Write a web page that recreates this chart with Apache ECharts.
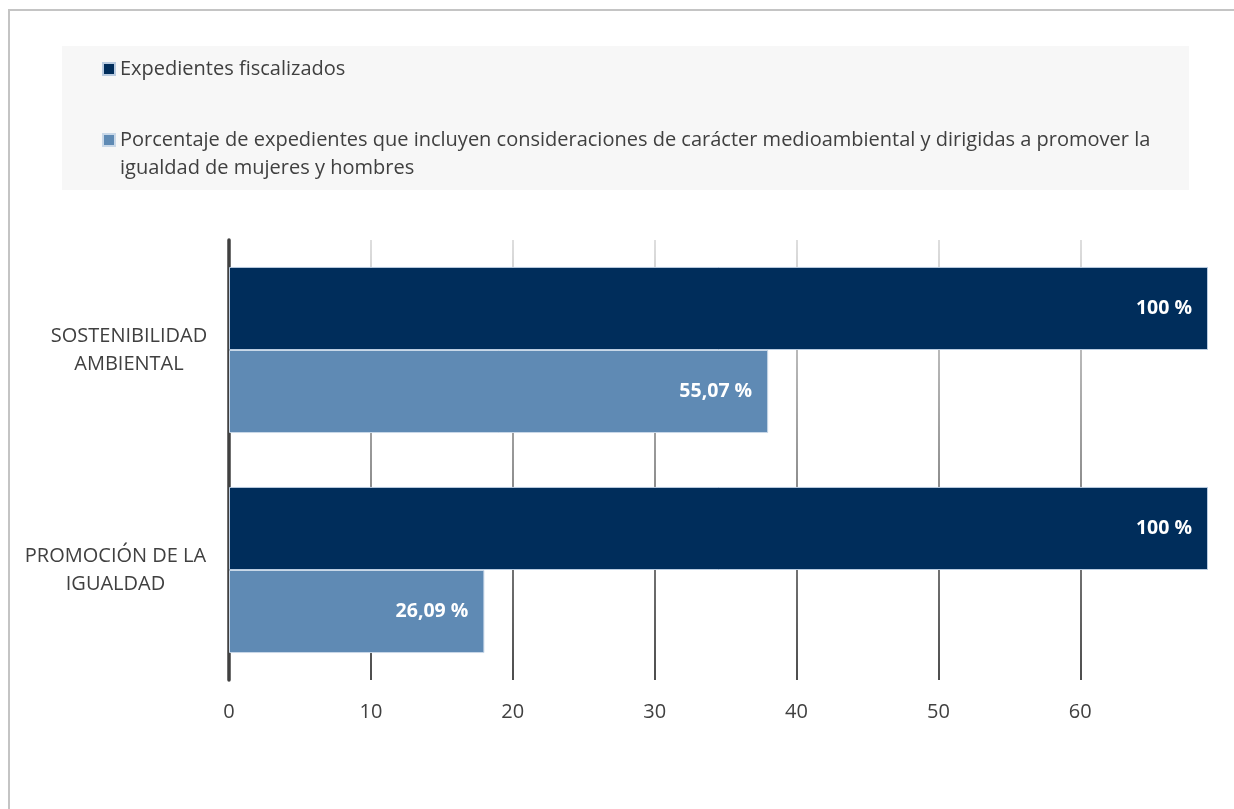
<!DOCTYPE html>
<html>
<head>
<meta charset="utf-8">
<script src="https://cdn.jsdelivr.net/npm/echarts@6/dist/echarts.min.js"></script>
<style>
html,body{margin:0;padding:0;background:#fff;overflow:hidden;}
#frame{position:absolute;left:8px;top:9px;width:1400px;height:1000px;border:2px solid #c4c4c4;box-sizing:border-box;}
#chart{position:absolute;left:0;top:0;width:1234px;height:809px;}
</style>
</head>
<body>
<div id="frame"></div>
<div id="chart"></div>
<script>
var categories = ['SOSTENIBILIDAD\nAMBIENTAL', 'PROMOCIÓN DE LA\nIGUALDAD'];
var seriesNames = ['Expedientes fiscalizados',
  'Porcentaje de expedientes que incluyen consideraciones de carácter medioambiental y dirigidas a promover la igualdad de mujeres y hombres'];
var fiscalizados = [69, 69];
var conConsideraciones = [38, 18];
var xTicks = {min: 0, max: 69, interval: 10};
var colors = ['#002D5B', '#5F8AB4'];

function pct(v, base) {
  var p = v / base * 100;
  var s = (Math.round(p) === p) ? String(p) : p.toFixed(2);
  return s.replace('.', ',') + ' %';
}

var FONT = 'Open Sans';
var grad = {type: 'linear', x: 0, y: 0, x2: 0, y2: 1,
  colorStops: [{offset: 0, color: '#d4d4d4'}, {offset: 1, color: '#111111'}]};

var catStyle = {color: '#404040', fontSize: 20, lineHeight: 28, fontFamily: FONT};
var chart = echarts.init(document.getElementById('chart'));
chart.setOption({
  animation: false,
  textStyle: {fontFamily: FONT},
  graphic: [{type: 'rect', z: -10, shape: {x: 62, y: 46, width: 1127, height: 144}, style: {fill: '#f7f7f7'}}],
  legend: [{
    data: [seriesNames[0]],
    left: 102, top: 59, padding: 0,
    icon: 'rect', itemWidth: 12, itemHeight: 12,
    textStyle: {color: '#404040', fontSize: 20, lineHeight: 20, fontFamily: FONT}
  }, {
    data: [seriesNames[1]],
    left: 102, top: 98, padding: 0,
    icon: 'rect', itemWidth: 12, itemHeight: 12,
    formatter: function () {
      return '\nPorcentaje de expedientes que incluyen consideraciones de carácter medioambiental y dirigidas a promover la\nigualdad de mujeres y hombres';
    },
    textStyle: {color: '#404040', fontSize: 20, lineHeight: 28, fontFamily: FONT}
  }],
  grid: {left: 229, right: 26, top: 240, bottom: 129, containLabel: false},
  xAxis: {
    type: 'value', min: xTicks.min, max: xTicks.max, interval: xTicks.interval,
    axisLine: {show: false}, axisTick: {show: false},
    axisLabel: {color: '#404040', fontSize: 20, margin: 22, showMaxLabel: false, fontFamily: FONT},
    splitLine: {show: true, lineStyle: {width: 1.5, color: [grad, grad, grad, grad, grad, grad, grad, 'rgba(0,0,0,0)']}}
  },
  yAxis: {
    type: 'category', inverse: true, data: categories,
    axisLine: {show: true, lineStyle: {color: '#404040', width: 3.5}},
    axisTick: {show: false},
    axisLabel: {color: '#404040', fontSize: 20, lineHeight: 28, align: 'center', margin: 100, fontFamily: FONT,
      formatter: function (v, i) {
        var tag = i === 0 ? 'a' : 'b';
        return v.split('\n').map(function (l) { return '{' + tag + '|' + l + '}'; }).join('\n');
      },
      rich: {
        a: catStyle,
        b: Object.assign({padding: [0, 27, 0, 0]}, catStyle)
      }
    }
  },
  series: [{
    name: seriesNames[0], type: 'bar', data: fiscalizados,
    barGap: '0%', barCategoryGap: '24.5%',
    itemStyle: {color: colors[0], borderColor: '#b9cbe0', borderWidth: 1},
    label: {show: true, position: 'insideRight', distance: 16, color: '#fff', fontWeight: 'bold', fontSize: 19.5, fontFamily: FONT,
      formatter: function (p) { return pct(p.value, fiscalizados[p.dataIndex]); }}
  }, {
    name: seriesNames[1], type: 'bar', data: conConsideraciones,
    barGap: '0%', barCategoryGap: '24.5%',
    itemStyle: {color: colors[1], borderColor: '#c9d8e8', borderWidth: 1},
    label: {show: true, position: 'insideRight', distance: 16, color: '#fff', fontWeight: 'bold', fontSize: 19.5, fontFamily: FONT,
      formatter: function (p) { return pct(p.value, fiscalizados[p.dataIndex]); }}
  }]
});
</script>
</body>
</html>
